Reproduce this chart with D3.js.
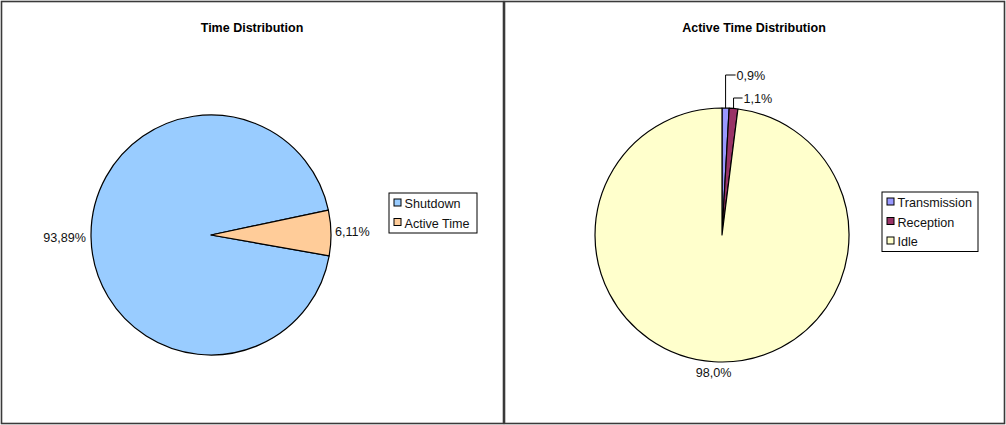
<!DOCTYPE html>
<html>
<head>
<meta charset="utf-8">
<script src="https://cdn.jsdelivr.net/npm/d3@7"></script>
<style>
  html, body { margin: 0; padding: 0; background: #fff; }
  svg { display: block; font-family: "Liberation Sans", Arial, sans-serif; }
</style>
</head>
<body>
<svg id="chart" width="1006" height="425"></svg>
<script>
// Time distribution (share of total time)
const timeCategories = ["Shutdown", "Active Time"];
const timeValues = [93.89, 6.11];
const timeLabels = ["93,89%", "6,11%"];
const timeColors = ["#99CCFF", "#FFCC99"];

// Breakdown of the active time
const activeCategories = ["Transmission", "Reception", "Idle"];
const activeValues = [0.9, 1.1, 98.0];
const activeLabels = ["0,9%", "1,1%", "98,0%"];
const activeColors = ["#9999FF", "#993366", "#FFFFCC"];

const FONT = 12.6;
const svg = d3.select("#chart");

// Panel frames
svg.append("rect").attr("x", 1.5).attr("y", 1.5).attr("width", 502).attr("height", 422)
  .attr("fill", "#fff").attr("stroke", "#3a3a3a").attr("stroke-width", 1.6);
svg.append("rect").attr("x", 504.5).attr("y", 1.5).attr("width", 500).attr("height", 422)
  .attr("fill", "#fff").attr("stroke", "#3a3a3a").attr("stroke-width", 1.6);

function drawPie(opts) {
  const g = svg.append("g");
  g.append("text")
    .attr("x", opts.titleX).attr("y", 31.5)
    .attr("text-anchor", "middle")
    .attr("font-size", 12.5).attr("font-weight", "bold")
    .text(opts.title);

  const deg = Math.PI / 180;
  const pie = d3.pie().sort(null)
    .startAngle(opts.startDeg * deg)
    .endAngle(opts.startDeg * deg + 2 * Math.PI);
  const arcs = pie(opts.values);
  const arc = d3.arc().innerRadius(0).outerRadius(opts.r);

  const pg = g.append("g").attr("transform", `translate(${opts.cx},${opts.cy})`);
  pg.selectAll("path").data(arcs).join("path")
    .attr("d", arc)
    .attr("fill", (d, i) => opts.colors[i])
    .attr("stroke", "#000").attr("stroke-width", 1.2)
    .attr("stroke-linejoin", "round");

  // Value labels
  arcs.forEach((d, i) => {
    const lab = opts.labelPos[i];
    const mid = (d.startAngle + d.endAngle) / 2;
    if (lab.leader) {
      // leader line from the rim straight up, then right to the text
      const ex = Math.sin(mid) * opts.r, ey = -Math.cos(mid) * opts.r;
      const x0 = opts.cx + ex, y0 = opts.cy + ey;
      const ty = opts.cy - opts.r - lab.rise;
      g.append("polyline")
        .attr("points", `${x0},${y0} ${x0},${ty} ${x0 + lab.run},${ty}`)
        .attr("fill", "none").attr("stroke", "#000").attr("stroke-width", 1);
      g.append("text")
        .attr("x", x0 + lab.run + 1).attr("y", ty + 4.5)
        .attr("font-size", FONT).attr("fill", "#111")
        .text(opts.labels[i]);
    } else {
      const rr = opts.r + lab.off;
      const x = opts.cx + Math.sin(mid) * rr, y = opts.cy - Math.cos(mid) * rr;
      g.append("text")
        .attr("x", x).attr("y", y + 4.5 + (lab.dy || 0))
        .attr("text-anchor", lab.anchor)
        .attr("font-size", FONT).attr("fill", "#111")
        .text(opts.labels[i]);
    }
  });

  // Legend
  const lg = g.append("g").attr("transform", `translate(${opts.legX},${opts.legY})`);
  lg.append("rect").attr("x", 0.5).attr("y", 0.5)
    .attr("width", opts.legW).attr("height", opts.categories.length * 19.5 + 1)
    .attr("fill", "#fff").attr("stroke", "#000").attr("stroke-width", 1);
  opts.categories.forEach((c, i) => {
    const yy = 11 + i * 19.5;
    lg.append("rect").attr("x", 5.5).attr("y", yy - 4.5).attr("width", 7).attr("height", 7)
      .attr("fill", opts.colors[i]).attr("stroke", "#000").attr("stroke-width", 1);
    lg.append("text").attr("x", 16).attr("y", yy + 4.5)
      .attr("font-size", FONT).attr("fill", "#111").text(c);
  });
}

drawPie({
  title: "Time Distribution", titleX: 252,
  categories: timeCategories, values: timeValues, labels: timeLabels, colors: timeColors,
  cx: 211, cy: 235, r: 120, startDeg: 100,
  labelPos: [{ off: 5, anchor: "end" }, { off: 4, anchor: "start", dy: -1 }],
  legX: 388.5, legY: 192.5, legW: 88
});

drawPie({
  title: "Active Time Distribution", titleX: 754,
  categories: activeCategories, values: activeValues, labels: activeLabels, colors: activeColors,
  cx: 722, cy: 235, r: 127, startDeg: 0,
  labelPos: [{ leader: true, rise: 33, run: 10 }, { leader: true, rise: 10, run: 9 }, { off: 8, anchor: "middle", dy: 3 }],
  legX: 881.5, legY: 191.5, legW: 96
});
</script>
</body>
</html>
